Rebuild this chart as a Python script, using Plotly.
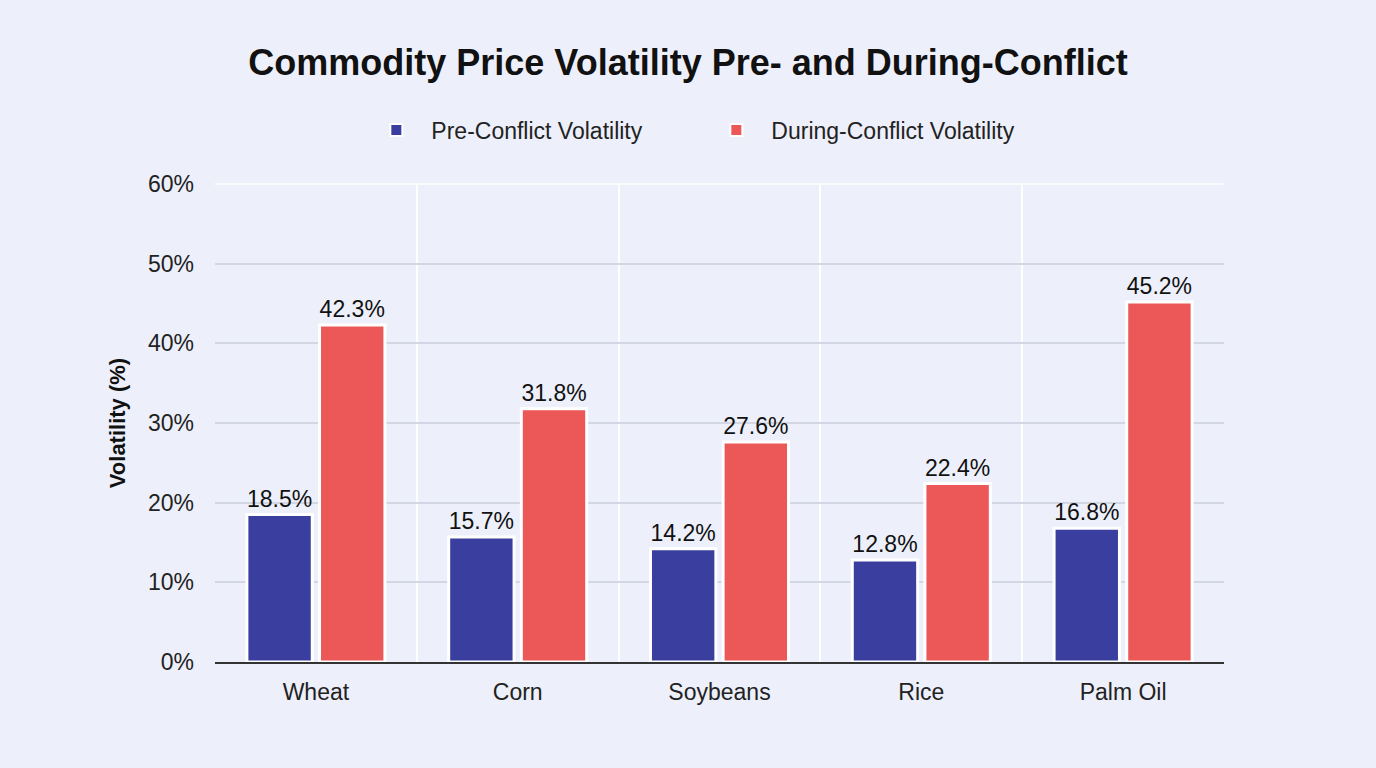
import plotly.graph_objects as go

categories = ["Wheat", "Corn", "Soybeans", "Rice", "Palm Oil"]
pre_conflict = [18.5, 15.7, 14.2, 12.8, 16.8]
during_conflict = [42.3, 31.8, 27.6, 22.4, 45.2]
y_ticks = [0, 10, 20, 30, 40, 50, 60]
y_tick_labels = [f"{v}%" for v in y_ticks]

FONT = "Liberation Sans, Arial, sans-serif"
BG = "#edf0fb"

fig = go.Figure()
fig.add_trace(go.Bar(
    name="Pre-Conflict Volatility", x=categories, y=pre_conflict,
    marker=dict(color="#3a3f9f", line=dict(color="white", width=3)),
    text=[f"{v:.1f}%" for v in pre_conflict], textposition="outside",
    textfont=dict(size=23, color="#111", family=FONT), cliponaxis=False,
))
fig.add_trace(go.Bar(
    name="During-Conflict Volatility", x=categories, y=during_conflict,
    marker=dict(color="#ec5757", line=dict(color="white", width=3)),
    text=[f"{v:.1f}%" for v in during_conflict], textposition="outside",
    textfont=dict(size=23, color="#111", family=FONT), cliponaxis=False,
))

fig.update_layout(
    width=1376, height=768,
    paper_bgcolor=BG, plot_bgcolor=BG,
    font=dict(family=FONT, size=23, color="#222"),
    margin=dict(l=215, r=152, t=184, b=106),
    barmode="group", bargap=0.28, bargroupgap=0.1,
    title=dict(text="<b>Commodity Price Volatility Pre- and During-Conflict</b>",
               x=0.5, xanchor="center", y=1 - 62 / 768, yanchor="middle",
               font=dict(size=36, color="#111", family=FONT)),
    legend=dict(orientation="h", x=0.482, xanchor="center", y=1.113, yanchor="middle",
                font=dict(size=23, color="#222"), bgcolor="rgba(0,0,0,0)",
                itemsizing="constant", itemwidth=60, entrywidth=265),
    showlegend=True,
)
fig.update_xaxes(
    tickson="boundaries", showgrid=True, gridcolor="white", gridwidth=1.5,
    showline=True, linecolor="#333", linewidth=2, ticks="",
    tickfont=dict(size=23, color="#222"), ticklabelstandoff=8,
)
fig.update_yaxes(
    range=[0, 60], tickvals=y_ticks, ticktext=y_tick_labels,
    showgrid=True, gridcolor="#d3d6e3", gridwidth=1.5, zeroline=False,
    title=dict(text="<b>Volatility (%)</b>", font=dict(size=22, color="#111"), standoff=16),
    tickfont=dict(size=23, color="#222"), ticks="", ticklabelstandoff=20,
)
fig.add_shape(type="line", xref="paper", yref="paper", x0=0, x1=1, y0=1, y1=1,
              line=dict(color="white", width=1.5))

fig.write_html("out.html", config={"displayModeBar": False},
               post_script="document.body.style.margin='0';document.body.style.overflow='hidden';")
